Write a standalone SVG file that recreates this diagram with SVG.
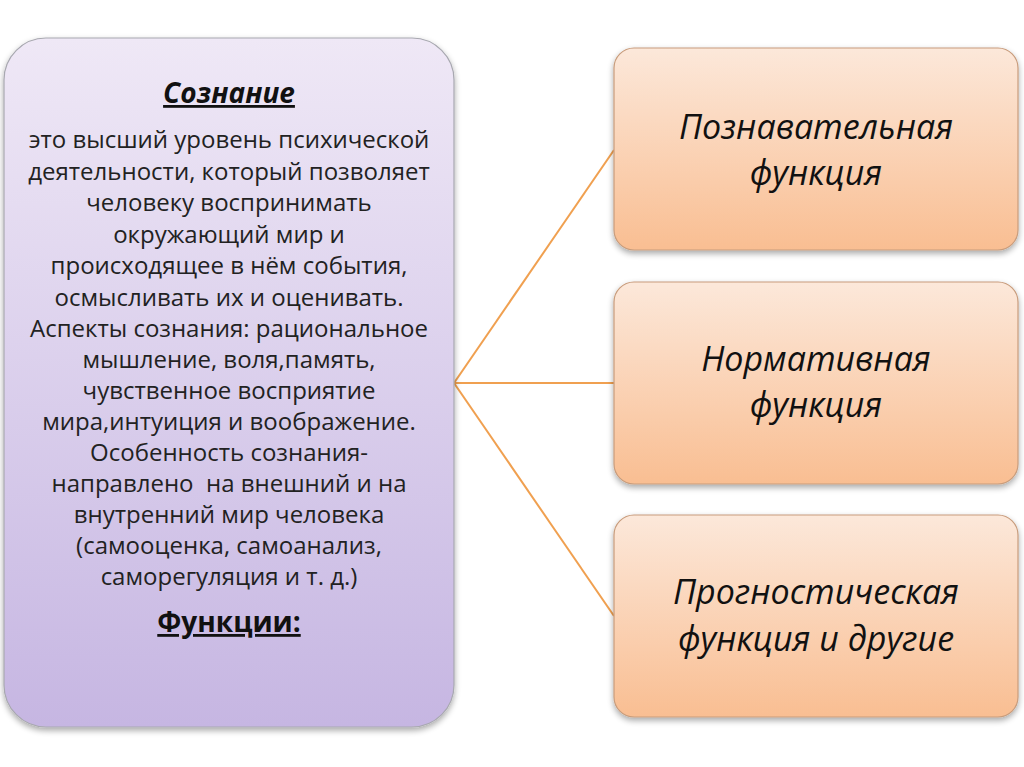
<svg xmlns="http://www.w3.org/2000/svg" width="1024" height="767" viewBox="0 0 1024 767">
<defs>
<linearGradient id="gL" x1="0" y1="0" x2="0" y2="1"><stop offset="0" stop-color="#efe8f6"/><stop offset="1" stop-color="#c6b6e2"/></linearGradient>
<linearGradient id="gR" x1="0" y1="0" x2="0" y2="1"><stop offset="0" stop-color="#fce8da"/><stop offset="1" stop-color="#f9be92"/></linearGradient>
<filter id="sh" x="-5%" y="-5%" width="110%" height="115%"><feGaussianBlur in="SourceAlpha" stdDeviation="3"/><feOffset dy="3"/><feComponentTransfer><feFuncA type="linear" slope="0.35"/></feComponentTransfer><feMerge><feMergeNode/><feMergeNode in="SourceGraphic"/></feMerge></filter>
</defs>
<style>
.body{font-family:"Open Sans","Noto Sans",sans-serif;font-size:24px;fill:#222;text-anchor:middle}
.hd{font-family:"Open Sans","Noto Sans",sans-serif;font-size:28px;font-weight:bold;fill:#111;text-anchor:middle;text-decoration:underline}
.fn{font-family:"Open Sans","Noto Sans",sans-serif;font-size:34px;font-style:italic;fill:#111;text-anchor:middle}
.rb{fill:url(#gR);stroke:#c89c7c;stroke-width:1.2}
.conn{stroke:#f0a050;stroke-width:2;fill:none}
</style>
<rect width="1024" height="767" fill="#ffffff"/>
<g id="connectors">
<line class="conn" x1="454" y1="383" x2="614" y2="150"/>
<line class="conn" x1="454" y1="383" x2="614" y2="383"/>
<line class="conn" x1="454" y1="383" x2="614" y2="616"/>
</g>
<g id="node-soznanie">
<rect x="4" y="38" width="450" height="689" rx="42" ry="42" fill="url(#gL)" stroke="#a8a8b0" stroke-width="1.2" filter="url(#sh)"/>
<text class="hd" x="229" y="103" font-style="italic" font-size="29">Сознание</text>
<text class="body" x="229" y="148">это высший уровень психической</text>
<text class="body" x="229" y="180">деятельности, который позволяет</text>
<text class="body" x="229" y="211">человеку воспринимать</text>
<text class="body" x="229" y="243">окружающий мир и</text>
<text class="body" x="229" y="274">происходящее в нём события,</text>
<text class="body" x="229" y="306">осмысливать их и оценивать.</text>
<text class="body" x="229" y="337">Аспекты сознания: рациональное</text>
<text class="body" x="229" y="368">мышление, воля,память,</text>
<text class="body" x="229" y="399">чувственное восприятие</text>
<text class="body" x="229" y="430">мира,интуиция и воображение.</text>
<text class="body" x="229" y="461">Особенность сознания-</text>
<text class="body" x="229" y="492" xml:space="preserve">направлено  на внешний и на</text>
<text class="body" x="229" y="523">внутренний мир человека</text>
<text class="body" x="229" y="554">(самооценка, самоанализ,</text>
<text class="body" x="229" y="585">саморегуляция и т. д.)</text>
<text class="hd" x="229" y="632">Функции:</text>
</g>
<g id="node-poznavatelnaya">
<rect class="rb" x="614" y="48" width="404" height="202" rx="20" ry="20" filter="url(#sh)"/>
<text class="fn" x="816" y="139">Познавательная</text>
<text class="fn" x="816" y="185">функция</text>
</g>
<g id="node-normativnaya">
<rect class="rb" x="614" y="282" width="404" height="202" rx="20" ry="20" filter="url(#sh)"/>
<text class="fn" x="816" y="371">Нормативная</text>
<text class="fn" x="816" y="417">функция</text>
</g>
<g id="node-prognosticheskaya">
<rect class="rb" x="614" y="515" width="404" height="202" rx="20" ry="20" filter="url(#sh)"/>
<text class="fn" x="816" y="604">Прогностическая</text>
<text class="fn" x="816" y="651">функция и другие</text>
</g>
</svg>
